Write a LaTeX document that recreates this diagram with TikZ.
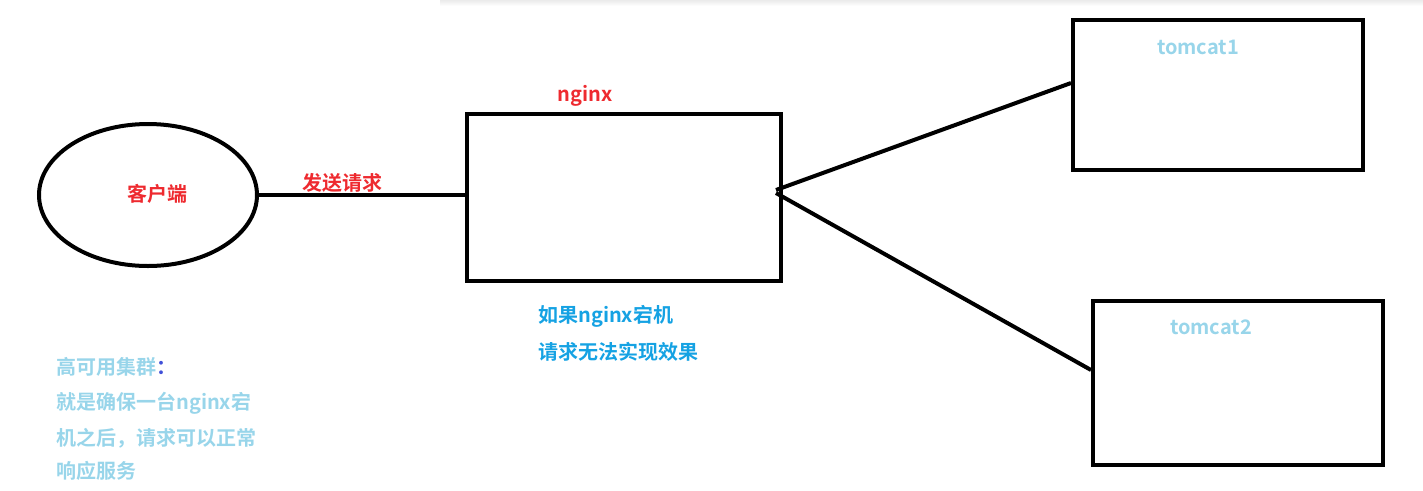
\documentclass[tikz,border=0pt]{standalone}
\usepackage{fontspec}
\newfontfamily\cjk{Noto Sans CJK SC}[BoldFont={Noto Sans CJK SC Bold}]
\usetikzlibrary{shapes.geometric}
\definecolor{myred}{HTML}{EE2A2F}
\definecolor{myblue}{HTML}{15A2E3}
\definecolor{mylight}{HTML}{98D5EA}
\definecolor{mycolon}{HTML}{4050D8}
\begin{document}
\begin{tikzpicture}[x=0.75pt,y=-0.75pt,
  shape line/.style={line width=3pt,black},
  boxshape/.style={draw,shape line,rectangle,inner sep=0pt,anchor=north west},
  lbl/.style={font=\cjk\bfseries\fontsize{15}{18}\selectfont,inner sep=0pt},
  lefttxt/.style={lbl,anchor=west}]
\useasboundingbox (0,0) rectangle (1423,490);
% faint top shadow
\shade[top color=black!8,bottom color=white] (440,0) rectangle (1423,6);
% client ellipse
\node[ellipse,draw,shape line,minimum width=218*0.75pt,minimum height=142*0.75pt,inner sep=0pt] (client) at (148,195) {};
\node[lbl,text=myred] (clientlbl) at (157,194) {客户端};
% nginx box
\node[boxshape,minimum width=314*0.75pt,minimum height=167*0.75pt] (nginx) at (465,112) {};
\node[lbl,text=myred] (nginxlbl) at (585,96) {nginx};
% tomcat boxes
\node[boxshape,minimum width=290*0.75pt,minimum height=150*0.75pt] (t1) at (1071,18) {};
\node[lbl,text=mylight] (t1lbl) at (1198,47) {tomcat1};
\node[boxshape,minimum width=290*0.75pt,minimum height=164*0.75pt] (t2) at (1091,299) {};
\node[lbl,text=mylight] (t2lbl) at (1211,327) {tomcat2};
% connectors
\coordinate (nA) at (776,190);
\coordinate (nB) at (776,193);
\coordinate (nIn) at (467,195);
\draw[shape line] (client.east) -- (nIn);
\node[lbl,text=myred] (sendlbl) at (342,183) {发送请求};
\draw[shape line] (nA) -- (t1.west |- 0,83);
\draw[shape line] (nB) -- (t2.west |- 0,370);
% blue text
\node[lefttxt,text=myblue] (b1) at (538,316) {如果nginx宕机};
\node[lefttxt,text=myblue] (b2) at (538,352) {请求无法实现效果};
% left notes
\node[lefttxt,text=mylight] (l1) at (56,367) {高可用集群\textcolor{mycolon}{：}};
\node[lefttxt,text=mylight] (l2) at (56,403) {就是确保一台nginx宕};
\node[lefttxt,text=mylight] (l3) at (56,438) {机之后，请求可以正常};
\node[lefttxt,text=mylight] (l4) at (56,471) {响应服务};
\end{tikzpicture}
\end{document}
